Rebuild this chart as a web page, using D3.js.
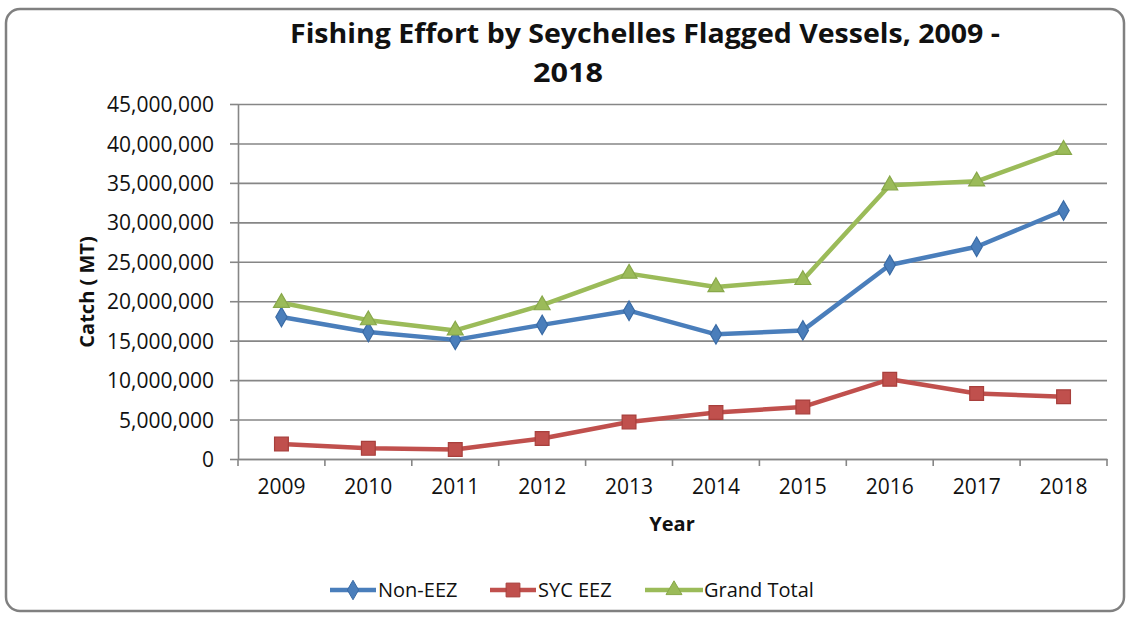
<!DOCTYPE html>
<html>
<head>
<meta charset="utf-8">
<script src="https://cdn.jsdelivr.net/npm/d3@7"></script>
<style>
body { margin:0; background:#fff; }
svg text { font-family:'Open Sans', sans-serif; fill:#111; }
.tick text { font-size:21px; }
.grid line { stroke:#868686; stroke-width:1.6; }
.grid .domain { display:none; }
.axis path, .axis line { stroke:#868686; stroke-width:1.6; }
</style>
</head>
<body>
<svg id="chart" width="1131" height="621"></svg>
<script>
// chart values
var years = ['2009','2010','2011','2012','2013','2014','2015','2016','2017','2018'];
var nonEEZ = [18000000, 16100000, 15100000, 17000000, 18800000, 15800000, 16300000, 24600000, 26900000, 31500000];
var sycEEZ = [1900000, 1350000, 1200000, 2600000, 4700000, 5900000, 6600000, 10100000, 8300000, 7900000];
var grandTotal = [19800000, 17600000, 16300000, 19500000, 23500000, 21800000, 22700000, 34700000, 35200000, 39200000];
var yTicks = [0, 5000000, 10000000, 15000000, 20000000, 25000000, 30000000, 35000000, 40000000, 45000000];
var seriesNames = ['Non-EEZ', 'SYC EEZ', 'Grand Total'];

var series = [
	{name: seriesNames[0], values: nonEEZ, color: '#4A7EBB', edge: '#3A6BA5', shape: d3.symbolDiamond, size: 110},
	{name: seriesNames[1], values: sycEEZ, color: '#C0504D', edge: '#A83F3C', shape: d3.symbolSquare, size: 190},
	{name: seriesNames[2], values: grandTotal, color: '#9BBB59', edge: '#88A84A', shape: d3.symbolTriangle, size: 110}
];

var svg = d3.select('#chart');
var plotLeft = 238, plotRight = 1107, plotTop = 104, plotBottom = 459;

//frame round the chart
svg.append('rect')
	.attr('x', 6).attr('y', 9).attr('width', 1118).attr('height', 602)
	.attr('rx', 14)
	.attr('fill', '#fff')
	.attr('stroke', '#808080')
	.attr('stroke-width', 2.5);

var xScale = d3.scaleBand().domain(years).range([plotLeft, plotRight]);
var yScale = d3.scaleLinear().domain([0, 45000000]).range([plotBottom, plotTop]);

//Grid lines
svg.append('g')
	.attr('class', 'grid')
	.attr('transform', 'translate(' + plotLeft + ',0)')
	.call(d3.axisLeft(yScale).tickValues(yTicks).tickSize(-(plotRight-plotLeft)).tickFormat(''));

//Y axis
var yAxis = svg.append('g')
	.attr('class', 'axis')
	.attr('transform', 'translate(' + plotLeft + ',0)')
	.call(d3.axisLeft(yScale).tickValues(yTicks).tickSize(8).tickSizeOuter(0).tickPadding(16).tickFormat(d3.format(',')));
yAxis.selectAll('.tick text').attr('dy', '0.36em');

//X axis, labels at band centres and tick marks between bands
var xAxis = svg.append('g')
	.attr('class', 'axis')
	.attr('transform', 'translate(0,' + plotBottom + ')')
	.call(d3.axisBottom(xScale).tickSize(0).tickPadding(20));
xAxis.selectAll('.tick text').attr('dy', '0.71em');
xAxis.selectAll('.tick line').remove();
var bounds = years.map(function(d){ return xScale(d); });
bounds.push(plotRight);
xAxis.selectAll('line.bound').data(bounds).enter().append('line')
	.attr('class', 'bound')
	.attr('x1', function(d){ return d; }).attr('x2', function(d){ return d; })
	.attr('y1', 0).attr('y2', 7);

//Lines and markers
var line = d3.line()
	.x(function(d, i){ return xScale(years[i]) + xScale.bandwidth()/2; })
	.y(function(d){ return yScale(d); });

series.forEach(function(s){
	svg.append('path')
		.datum(s.values)
		.attr('d', line)
		.attr('fill', 'none')
		.attr('stroke', s.color)
		.attr('stroke-width', 4.5)
		.attr('stroke-linejoin', 'round');
	svg.selectAll(null).data(s.values).enter().append('path')
		.attr('d', d3.symbol().type(s.shape).size(s.size))
		.attr('transform', function(d, i){ return 'translate(' + (xScale(years[i]) + xScale.bandwidth()/2) + ',' + yScale(d) + ')'; })
		.attr('fill', s.color)
		.attr('stroke', s.edge)
		.attr('stroke-width', 1.2);
});

//Titles
svg.append('text')
	.attr('x', 645).attr('y', 43)
	.attr('text-anchor', 'middle')
	.style('font-size', '26px').style('font-weight', 'bold')
	.attr('textLength', 710).attr('lengthAdjust', 'spacingAndGlyphs')
	.text('Fishing Effort by Seychelles Flagged Vessels, 2009 -');
svg.append('text')
	.attr('x', 568).attr('y', 82)
	.attr('text-anchor', 'middle')
	.style('font-size', '26px').style('font-weight', 'bold')
	.attr('textLength', 70).attr('lengthAdjust', 'spacingAndGlyphs')
	.text('2018');

svg.append('text')
	.attr('transform', 'translate(94,' + 292 + ') rotate(-90)')
	.attr('text-anchor', 'middle')
	.style('font-size', '20px').style('font-weight', 'bold')
	.text('Catch ( MT)');

svg.append('text')
	.attr('x', 672).attr('y', 531)
	.attr('text-anchor', 'middle')
	.style('font-size', '20px').style('font-weight', 'bold')
	.text('Year');

//Legend
var legendX = [330, 490, 645];
var legend = svg.selectAll('g.legend').data(series).enter().append('g')
	.attr('class', 'legend')
	.attr('transform', function(d, i){ return 'translate(' + legendX[i] + ',590)'; });
legend.append('line')
	.attr('x1', 0).attr('x2', function(d, i){ return i == 2 ? 58 : 46; })
	.attr('y1', 0).attr('y2', 0)
	.attr('stroke', function(d){ return d.color; })
	.attr('stroke-width', 4.5);
legend.append('path')
	.attr('d', function(d){ return d3.symbol().type(d.shape).size(d.size)(); })
	.attr('transform', function(d, i){ return 'translate(' + (i == 2 ? 29 : 23) + ',0)'; })
	.attr('fill', function(d){ return d.color; })
	.attr('stroke', function(d){ return d.edge; });
legend.append('text')
	.attr('x', function(d, i){ return i == 2 ? 59 : 48; })
	.attr('dy', '0.36em')
	.style('font-size', '20px')
	.text(function(d){ return d.name; });
</script>
</body>
</html>
